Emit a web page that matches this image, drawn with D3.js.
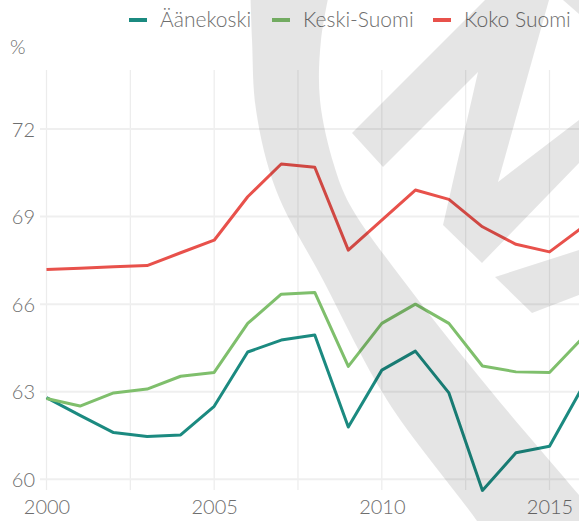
<!DOCTYPE html>
<html>
<head>
<meta charset="utf-8">
<script src="https://cdn.jsdelivr.net/npm/d3@7"></script>
<style>
  html, body { margin: 0; padding: 0; background: #fff; }
  svg { display: block; }
  text { font-family: Lato, "Open Sans", sans-serif; font-weight: 300; fill: #6e6e6e; }
</style>
</head>
<body>
<svg id="chart" width="579" height="521"></svg>
<script>
// ---- data ----
const years = [2000, 2001, 2002, 2003, 2004, 2005, 2006, 2007, 2008, 2009, 2010, 2011, 2012, 2013, 2014, 2015, 2016];
const aanekoski = [62.80, 62.19, 61.60, 61.47, 61.52, 62.50, 64.36, 64.77, 64.94, 61.79, 63.74, 64.39, 62.96, 59.62, 60.91, 61.13, 63.19];
const keskiSuomi = [62.77, 62.51, 62.96, 63.09, 63.53, 63.66, 65.34, 66.34, 66.40, 63.87, 65.34, 66.00, 65.34, 63.88, 63.68, 63.66, 64.86];
const kokoSuomi = [67.19, 67.23, 67.28, 67.32, 67.76, 68.19, 69.68, 70.80, 70.69, 67.85, 68.88, 69.91, 69.59, 68.65, 68.05, 67.79, 68.65];
const seriesNames = ["Äänekoski", "Keski-Suomi", "Koko Suomi"];
const seriesColors = ["#1b8a80", "#7fbf6c", "#e8514b"];
const yTicks = [60, 63, 66, 69, 72];
const xLabelTicks = [2000, 2005, 2010, 2015];
const xGridTicks = [2000, 2002.5, 2005, 2007.5, 2010, 2012.5, 2015, 2017.5];
const yUnit = "%";

const svg = d3.select("#chart");
const W = 579, H = 521;
const plotTop = 70, plotBottom = 490;

const x = d3.scaleLinear().domain([2000, 2015]).range([46.5, 549.5]);
const y = d3.scaleLinear().domain([60, 72]).range([479.3, 129]);

// ---- grid ----
const grid = svg.append("g");
grid.selectAll("line.v").data(xGridTicks).join("line")
  .attr("x1", d => x(d)).attr("x2", d => x(d))
  .attr("y1", plotTop).attr("y2", plotBottom)
  .attr("stroke", "#ececec").attr("stroke-width", 1.2);
grid.selectAll("line.h").data(yTicks).join("line")
  .attr("x1", 40).attr("x2", W)
  .attr("y1", d => y(d)).attr("y2", d => y(d))
  .attr("stroke", "#efefef").attr("stroke-width", 2);

// ---- axes labels ----
const yAxis = d3.axisLeft(y).tickValues(yTicks).tickSize(0).tickPadding(0);
const gy = svg.append("g").attr("transform", "translate(35,0)").call(yAxis);
gy.select(".domain").remove();
gy.selectAll("text").style("font-size", "20px").attr("fill", "#6e6e6e")
  .style("font-family", "Lato, sans-serif").style("font-weight", 300).attr("dy", "0.35em");

const xAxis = d3.axisBottom(x).tickValues(xLabelTicks).tickFormat(d3.format("d")).tickSize(0).tickPadding(0);
const gx = svg.append("g").attr("transform", "translate(0,496)").call(xAxis);
gx.select(".domain").remove();
gx.selectAll("text").style("font-size", "20px").attr("fill", "#6e6e6e")
  .style("font-family", "Lato, sans-serif").style("font-weight", 300).attr("dy", "0.9em");

svg.append("text").attr("x", 10).attr("y", 54).style("font-size", "20px").text(yUnit);

// ---- lines ----
const allSeries = [aanekoski, keskiSuomi, kokoSuomi];
const line = d3.line().x((d, i) => x(years[i])).y(d => y(d));
svg.append("g").selectAll("path").data(allSeries).join("path")
  .attr("d", d => line(d))
  .attr("fill", "none")
  .attr("stroke", (d, i) => seriesColors[i])
  .attr("stroke-width", 3)
  .attr("stroke-linejoin", "round");

// ---- legend ----
const legendX = [129, 272, 433];
const lg = svg.append("g");
seriesNames.forEach((name, i) => {
  lg.append("line").attr("x1", legendX[i]).attr("x2", legendX[i] + 18)
    .attr("y1", 20).attr("y2", 20)
    .attr("stroke", seriesColors[i]).attr("stroke-width", 4);
  lg.append("text").attr("x", legendX[i] + 31).attr("y", 27)
    .style("font-size", "21px").text(name);
});

// ---- watermark (decorative logo, drawn on top, translucent) ----
const wm = svg.append("g").attr("fill", "#000").attr("fill-opacity", 0.1);
const curve = d3.line().curve(d3.curveCatmullRom);
const outerArc = [[250, -20], [252, 40], [256, 110], [276, 190], [323, 280], [387, 400], [477, 521], [500, 556]];
const innerArc = [[332, -20], [321, 40], [320, 100], [334, 165], [350, 205], [403, 280], [490, 390], [579, 495], [620, 545]];
const arcPath = curve(outerArc) + curve(innerArc.slice().reverse()).replace(/^M/, "L") + "Z";
wm.append("path").attr("d", arcPath);
const chevron1 = [[352, 133], [485, 0], [549, 0], [498, 182], [579, 120], [579, 163], [482, 263], [443, 225], [478, 72], [383, 167]];
wm.append("path").attr("d", d3.line()(chevron1) + "Z");
const chevron2 = [[495, 277], [579, 250], [579, 295], [532, 313]];
wm.append("path").attr("d", d3.line()(chevron2) + "Z");
const corner = [[563, 0], [579, 0], [579, 14]];
wm.append("path").attr("d", d3.line()(corner) + "Z");
</script>
</body>
</html>
